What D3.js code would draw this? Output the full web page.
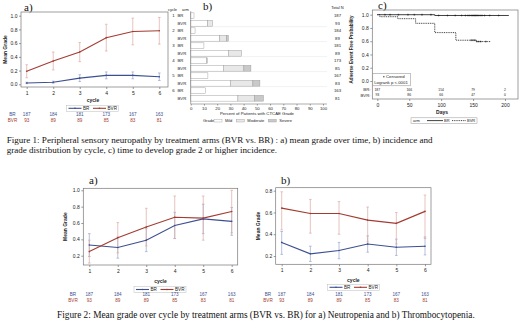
<!DOCTYPE html>
<html>
<head>
<meta charset="utf-8">
<script src="https://cdn.jsdelivr.net/npm/d3@7"></script>
<style>
  body { margin: 0; background: #fff; }
  svg { display: block; font-family: "Liberation Sans", Arial, sans-serif; }
</style>
</head>
<body>
<div id="chart"></div>
<script>
// ---- data ----
const cycles = [1, 2, 3, 4, 5, 6];
const atRiskBR = [187, 184, 181, 173, 167, 163];
const atRiskBVR = [93, 89, 89, 85, 83, 81];

// Fig 1a: peripheral sensory neuropathy, mean grade with error bar ends
const neuroBR = [0.02, 0.03, 0.09, 0.13, 0.13, 0.11];
const neuroBRLo = [0.01, 0.015, 0.04, 0.08, 0.08, 0.055];
const neuroBRHi = [0.03, 0.045, 0.14, 0.18, 0.18, 0.165];
const neuroBVR = [0.19, 0.34, 0.47, 0.68, 0.77, 0.78];
const neuroBVRLo = [0.095, 0.21, 0.33, 0.485, 0.575, 0.585];
const neuroBVRHi = [0.285, 0.47, 0.61, 0.875, 0.965, 0.975];

// Fig 1b: percent of patients by grade (rows = cycle x arm)
const gradeRows = ['1 BR', '1 BVR', '2 BR', '2 BVR', '3 BR', '3 BVR', '4 BR', '4 BVR', '5 BR', '5 BVR', '6 BR', '6 BVR'];
const gradeMild = [2.5, 12.8, 3.3, 22, 10, 28.4, 11.8, 24.6, 13, 30, 11, 35.7];
const gradeModerate = [0, 3.8, 0, 5, 0, 10, 0.8, 15.6, 0, 17, 0, 12.5];
const gradeSevere = [0, 0, 0, 1.4, 0, 0, 0, 5.3, 0, 5.3, 0, 6.8];
const gradeTotalN = [187, 93, 184, 89, 181, 89, 173, 85, 167, 83, 163, 81];
const gradeNames = ['Mild', 'Moderate', 'Severe'];

// Fig 1c: time to grade >= 2 (Kaplan-Meier)
const kmBRTime = [0, 90, 206];
const kmBRSurv = [1.0, 0.988, 0.988];
const kmBVRTime = [0, 4, 32, 60, 90, 123, 155, 178];
const kmBVRSurv = [1.0, 0.97, 0.94, 0.87, 0.73, 0.615, 0.595, 0.595];
const censorBR = [12, 20, 33, 48, 58, 70, 84, 96, 110, 122, 132, 138, 142, 145, 148, 150, 152, 154, 156, 158, 161, 164, 168, 176, 190];
const censorBVR = [147, 150, 153, 156, 159, 162, 170];
const kmDays = [0, 50, 100, 150, 200];
const kmRiskBR = [187, 166, 154, 79, 2];
const kmRiskBVR = [93, 86, 66, 47, 0];

// Fig 2a: neutropenia
const neutroBR = [0.33, 0.30, 0.39, 0.57, 0.65, 0.62];
const neutroBRLo = [0.19, 0.17, 0.25, 0.41, 0.47, 0.45];
const neutroBRHi = [0.47, 0.43, 0.53, 0.73, 0.83, 0.79];
const neutroBVR = [0.25, 0.42, 0.55, 0.67, 0.66, 0.74];
const neutroBVRLo = [0.11, 0.235, 0.32, 0.41, 0.39, 0.48];
const neutroBVRHi = [0.39, 0.605, 0.78, 0.93, 0.93, 1.0];

// Fig 2b: thrombocytopenia
const thromboBR = [0.325, 0.22, 0.25, 0.31, 0.28, 0.29];
const thromboBRLo = [0.215, 0.15, 0.175, 0.235, 0.205, 0.21];
const thromboBRHi = [0.425, 0.29, 0.325, 0.385, 0.355, 0.375];
const thromboBVR = [0.64, 0.59, 0.59, 0.53, 0.50, 0.61];
const thromboBVRLo = [0.44, 0.41, 0.40, 0.33, 0.31, 0.36];
const thromboBVRHi = [0.79, 0.72, 0.70, 0.65, 0.60, 0.76];

const BLUE = '#3d4f91';
const RED = '#a33b31';
const BLUE_ERR = '#9aa6cc';
const RED_ERR = '#dbaaa4';
const FS = 5;

const svg = d3.select('#chart').append('svg')
  .attr('width', 520)
  .attr('height', 323);

const txt = (g, x, y, s, opts = {}) => g.append('text')
  .attr('x', x).attr('y', y)
  .attr('dy', '0.35em')
  .attr('font-size', opts.size || FS)
  .attr('font-weight', opts.bold ? 'bold' : null)
  .attr('fill', opts.color || '#222')
  .attr('text-anchor', opts.anchor || 'middle')
  .text(s);

const panelLabel = (x, y, s) => svg.append('text')
  .attr('x', x).attr('y', y)
  .attr('font-family', '"Liberation Serif", "Times New Roman", serif')
  .attr('font-size', 11)
  .attr('fill', '#111')
  .text(s);

const styleAxis = (a) => {
  a.select('.domain').remove();
  a.selectAll('line').attr('stroke', '#555').attr('stroke-width', 0.6);
  a.selectAll('text').attr('font-size', FS).attr('fill', '#222').attr('font-family', null);
};

// line chart with error bars (mean grade by cycle)
const linePanel = (o) => {
  const g = svg.append('g');
  const x = d3.scaleLinear().domain([1, 6]).range(o.xr);
  const y = d3.scaleLinear().domain(o.yd).range(o.yr);
  const [fx0, fy0, fx1, fy1] = o.frame;

  g.append('g').attr('transform', `translate(${fx0},0)`)
    .call(d3.axisLeft(y).tickValues(o.yticks).tickFormat(d3.format('.1f')).tickSize(2).tickPadding(1.5))
    .call(styleAxis);
  g.append('g').attr('transform', `translate(0,${fy1})`)
    .call(d3.axisBottom(x).tickValues(cycles).tickFormat(d3.format('d')).tickSize(2).tickPadding(2))
    .call(styleAxis);

  const series = [
    { vals: o.br, lo: o.brLo, hi: o.brHi, color: BLUE, ecolor: BLUE_ERR },
    { vals: o.bvr, lo: o.bvrLo, hi: o.bvrHi, color: RED, ecolor: RED_ERR },
  ];
  series.forEach((s) => {
    cycles.forEach((c, i) => {
      const lo = Math.min(y(s.lo[i]), fy1);
      const hi = Math.max(y(s.hi[i]), fy0);
      const cx = x(c);
      g.append('line').attr('x1', cx).attr('x2', cx).attr('y1', lo).attr('y2', hi)
        .attr('stroke', s.ecolor).attr('stroke-width', 0.7);
      [lo, hi].forEach((yy) => {
        if (yy > fy0 && yy < fy1) {
          g.append('line').attr('x1', cx - 1.3).attr('x2', cx + 1.3).attr('y1', yy).attr('y2', yy)
            .attr('stroke', s.ecolor).attr('stroke-width', 0.7);
        }
      });
    });
  });
  series.forEach((s) => {
    g.append('path')
      .datum(s.vals)
      .attr('fill', 'none')
      .attr('stroke', s.color)
      .attr('stroke-width', 1.1)
      .attr('d', d3.line().x((d, i) => x(cycles[i])).y((d) => y(d)));
    g.selectAll(null).data(s.vals).enter().append('circle')
      .attr('cx', (d, i) => x(cycles[i])).attr('cy', (d) => y(d)).attr('r', 0.8)
      .attr('fill', s.color);
  });

  g.append('rect').attr('x', fx0).attr('y', fy0).attr('width', fx1 - fx0).attr('height', fy1 - fy0)
    .attr('fill', 'none').attr('stroke', '#777').attr('stroke-width', 0.7);

  // titles
  txt(g, o.xr[0] + (o.xr[1] - o.xr[0]) / 2, o.cycleY, 'cycle', { bold: true });
  g.append('text')
    .attr('transform', `translate(${o.yTitleX},${(fy0 + fy1) / 2}) rotate(-90)`)
    .attr('text-anchor', 'middle').attr('dy', '0.35em')
    .attr('font-size', FS).attr('font-weight', 'bold').attr('fill', '#222')
    .text('Mean Grade');

  // legend
  const lx = o.legend[0];
  const ly = o.legend[1];
  g.append('rect').attr('x', lx - 26).attr('y', ly - 3).attr('width', 52).attr('height', 6)
    .attr('fill', '#fff').attr('stroke', '#bbb').attr('stroke-width', 0.5);
  [['BR', BLUE, lx - 24], ['BVR', RED, lx + 0.5]].forEach(([name, col, sx]) => {
    g.append('line').attr('x1', sx).attr('x2', sx + 13).attr('y1', ly).attr('y2', ly)
      .attr('stroke', col).attr('stroke-width', 1.1);
    g.append('circle').attr('cx', sx + 6.5).attr('cy', ly).attr('r', 0.8).attr('fill', col);
    txt(g, sx + 14.5, ly, name, { anchor: 'start', size: 4.6 });
  });

  // patients at risk
  txt(g, o.riskLabelX, o.riskY[0], 'BR', { color: BLUE, size: 4.6 });
  txt(g, o.riskLabelX, o.riskY[1], 'BVR', { color: RED, size: 4.6 });
  cycles.forEach((c, i) => {
    txt(g, x(c), o.riskY[0], atRiskBR[i], { color: BLUE, size: 4.6 });
    txt(g, x(c), o.riskY[1], atRiskBVR[i], { color: RED, size: 4.6 });
  });
};

// ---- Figure 1a ----
panelLabel(24, 11, 'a)');
linePanel({
  frame: [21, 12, 168, 87],
  xr: [26.7, 159.3],
  yd: [0, 1],
  yr: [84.3, 15.7],
  yticks: [0, 0.2, 0.4, 0.6, 0.8, 1.0],
  br: neuroBR, brLo: neuroBRLo, brHi: neuroBRHi,
  bvr: neuroBVR, bvrLo: neuroBVRLo, bvrHi: neuroBVRHi,
  cycleY: 100,
  yTitleX: 5,
  legend: [92.5, 108.3],
  riskLabelX: 12.5,
  riskY: [114, 120],
});

// ---- Figure 1b ----
(() => {
  const g = svg.append('g');
  const x = d3.scaleLinear().domain([0, 100]).range([190.7, 323]);
  const y = d3.scaleBand().domain(gradeRows).range([11.2, 102.8]).padding(0.22);
  const fx0 = 190.7;
  const fx1 = 327;
  const fy0 = 11.2;
  const fy1 = 104;

  g.append('g').attr('transform', `translate(0,${fy1})`)
    .call(d3.axisBottom(x).tickValues(d3.range(0, 101, 10)).tickSize(1.5).tickPadding(1.2))
    .call(styleAxis);
  g.selectAll('.tick text').attr('font-size', 4.3);

  // group separators
  [2, 4, 6, 8, 10].forEach((k) => {
    const yy = y(gradeRows[k]) - y.step() * y.paddingInner() / 2 - 0.4;
    g.append('line').attr('x1', fx0).attr('x2', fx1).attr('y1', yy).attr('y2', yy)
      .attr('stroke', '#e4e4e4').attr('stroke-width', 0.5);
  });

  const fills = ['#ffffff', '#e8e8e8', '#c9c9c9'];
  gradeRows.forEach((r, i) => {
    const parts = [gradeMild[i], gradeModerate[i], gradeSevere[i]];
    let acc = 0;
    parts.forEach((p, k) => {
      if (p > 0) {
        g.append('rect')
          .attr('x', x(acc)).attr('y', y(r))
          .attr('width', x(acc + p) - x(acc)).attr('height', y.bandwidth())
          .attr('fill', fills[k]).attr('stroke', '#9a9a9a').attr('stroke-width', 0.45);
      }
      acc += p;
    });
    const [cyc, arm] = r.split(' ');
    if (arm === 'BR') txt(g, 173.5, y(r) + y.bandwidth() / 2, cyc, { size: 4.3 });
    txt(g, 177.5, y(r) + y.bandwidth() / 2, arm, { size: 4.3, anchor: 'start' });
    txt(g, 337.5, y(r) + y.bandwidth() / 2, gradeTotalN[i], { size: 4.3 });
  });

  g.append('line').attr('x1', fx0).attr('x2', fx0).attr('y1', fy0).attr('y2', fy1)
    .attr('stroke', '#777').attr('stroke-width', 0.6);
  g.append('line').attr('x1', fx0).attr('x2', fx1).attr('y1', fy1).attr('y2', fy1)
    .attr('stroke', '#777').attr('stroke-width', 0.6);

  txt(g, 172.5, 9.5, 'cycle', { size: 4 });
  txt(g, 185.5, 9.5, 'arm', { size: 4 });
  txt(g, 337.5, 7.5, 'Total N', { size: 4 });
  txt(g, 257, 113, 'Percent of Patients with CTCAE Grade', { size: 4.3 });

  // legend
  const ly = 120.7;
  txt(g, 203, ly, 'Grade', { size: 4, anchor: 'start' });
  let lx = 214;
  gradeNames.forEach((n, k) => {
    g.append('rect').attr('x', lx).attr('y', ly - 1.3).attr('width', 8).attr('height', 2.6)
      .attr('fill', fills[k]).attr('stroke', '#9a9a9a').attr('stroke-width', 0.4);
    const t = txt(g, lx + 11, ly, n, { size: 4, anchor: 'start' });
    lx = lx + 11 + t.node().getComputedTextLength() + 4;
  });
})();
panelLabel(203, 10, 'b)');

// ---- Figure 1c ----
(() => {
  const g = svg.append('g');
  const x = d3.scaleLinear().domain([0, 200]).range([377.3, 505]);
  const y = d3.scaleLinear().domain([0, 1]).range([81, 14.7]);
  const fx0 = 372.3;
  const fx1 = 518;
  const fy0 = 10;
  const fy1 = 99;

  g.append('g').attr('transform', `translate(${fx0},0)`)
    .call(d3.axisLeft(y).tickValues([0, 0.2, 0.4, 0.6, 0.8, 1.0]).tickFormat(d3.format('.1f')).tickSize(2).tickPadding(1.5))
    .call(styleAxis);
  g.append('g').attr('transform', `translate(0,${fy1})`)
    .call(d3.axisBottom(x).tickValues(kmDays).tickSize(2).tickPadding(2))
    .call(styleAxis);

  const step = d3.line().curve(d3.curveStepAfter).x((d) => x(d[0])).y((d) => y(d[1]));
  g.append('path')
    .datum(kmBRTime.map((t, i) => [t, kmBRSurv[i]]))
    .attr('fill', 'none').attr('stroke', '#111').attr('stroke-width', 0.8)
    .attr('d', step);
  g.append('path')
    .datum(kmBVRTime.map((t, i) => [t, kmBVRSurv[i]]))
    .attr('fill', 'none').attr('stroke', '#111').attr('stroke-width', 0.8)
    .attr('stroke-dasharray', '1,0.8')
    .attr('d', step);

  const survAt = (times, surv, t) => {
    let s = surv[0];
    times.forEach((tt, i) => { if (tt <= t) s = surv[i]; });
    return s;
  };
  const cross = (t, s) => {
    const cx = x(t);
    const cy = y(s);
    g.append('path').attr('d', `M${cx - 1},${cy}H${cx + 1}M${cx},${cy - 1}V${cy + 1}`)
      .attr('stroke', '#111').attr('stroke-width', 0.45);
  };
  censorBR.forEach((t) => cross(t, survAt(kmBRTime, kmBRSurv, t)));
  censorBVR.forEach((t) => cross(t, survAt(kmBVRTime, kmBVRSurv, t)));

  g.append('rect').attr('x', fx0).attr('y', fy0).attr('width', fx1 - fx0).attr('height', fy1 - fy0)
    .attr('fill', 'none').attr('stroke', '#777').attr('stroke-width', 0.7);

  // censored / logrank inset
  g.append('rect').attr('x', fx0 + 0.5).attr('y', 73.5).attr('width', 37.5).attr('height', 12.3)
    .attr('fill', '#fff').attr('stroke', '#888').attr('stroke-width', 0.5);
  g.append('path').attr('d', `M${383},${76.7}h1.6M${383.8},${75.9}v1.6`)
    .attr('stroke', '#111').attr('stroke-width', 0.45);
  txt(g, 386, 76.7, 'Censored', { size: 4.3, anchor: 'start' });
  txt(g, 391, 82.4, 'Logrank p <.0001', { size: 4.3 });

  // at risk
  txt(g, 370.5, 89.8, 'BR:', { size: 4.3, anchor: 'end' });
  txt(g, 370.5, 95.3, 'BVR:', { size: 4.3, anchor: 'end' });
  kmDays.forEach((d, i) => {
    txt(g, x(d), 89.8, kmRiskBR[i], { size: 3.4 });
    txt(g, x(d), 95.3, kmRiskBVR[i], { size: 3.4 });
  });

  txt(g, 442, 111.8, 'Days', { bold: true });
  g.append('text')
    .attr('transform', `translate(351,${(fy0 + 81) / 2 + 4}) rotate(-90)`)
    .attr('text-anchor', 'middle').attr('dy', '0.35em')
    .attr('font-size', 4.6).attr('font-weight', 'bold').attr('fill', '#222')
    .text('Adverse Event Free Probability');

  // legend
  g.append('rect').attr('x', 411).attr('y', 117.8).attr('width', 66).attr('height', 5.6)
    .attr('fill', '#fff').attr('stroke', '#999').attr('stroke-width', 0.5);
  txt(g, 413, 120.6, 'arm', { size: 4, anchor: 'start' });
  g.append('line').attr('x1', 427).attr('x2', 443).attr('y1', 120.6).attr('y2', 120.6)
    .attr('stroke', '#111').attr('stroke-width', 0.8);
  txt(g, 444, 120.6, 'BR', { size: 4, anchor: 'start' });
  g.append('line').attr('x1', 452).attr('x2', 466).attr('y1', 120.6).attr('y2', 120.6)
    .attr('stroke', '#111').attr('stroke-width', 0.8).attr('stroke-dasharray', '1,0.8');
  txt(g, 467, 120.6, 'BVR', { size: 4, anchor: 'start' });
})();
panelLabel(378, 9, 'c)');

// ---- captions ----
const caption = (x, y, s, size) => svg.append('text')
  .attr('x', x).attr('y', y)
  .attr('font-family', '"Liberation Serif", "Times New Roman", serif')
  .attr('font-size', size)
  .attr('fill', '#111')
  .text(s);
caption(6.7, 142.5, 'Figure 1: Peripheral sensory neuropathy by treatment arms (BVR vs. BR) : a) mean grade over time, b) incidence and', 9.05);
caption(6.7, 152.8, 'grade distribution by cycle, c) time to develop grade 2 or higher incidence.', 9.05);

// ---- Figure 2a ----
panelLabel(89, 184, 'a)');
linePanel({
  frame: [83.3, 188.3, 237.7, 265],
  xr: [89.3, 231.7],
  yd: [0.2, 1.0],
  yr: [255.7, 190.3],
  yticks: [0.2, 0.4, 0.6, 0.8, 1.0],
  br: neutroBR, brLo: neutroBRLo, brHi: neutroBRHi,
  bvr: neutroBVR, bvrLo: neutroBVRLo, bvrHi: neutroBVRHi,
  cycleY: 281.7,
  yTitleX: 65,
  legend: [160, 289.5],
  riskLabelX: 73,
  riskY: [294.5, 300.2],
});

// ---- Figure 2b ----
panelLabel(281, 184, 'b)');
linePanel({
  frame: [275.7, 187.7, 431, 264.3],
  xr: [281.7, 425],
  yd: [0.2, 0.8],
  yr: [256, 190.7],
  yticks: [0.2, 0.4, 0.6, 0.8],
  br: thromboBR, brLo: thromboBRLo, brHi: thromboBRHi,
  bvr: thromboBVR, bvrLo: thromboBVRLo, bvrHi: thromboBVRHi,
  cycleY: 280,
  yTitleX: 258,
  legend: [353.5, 287.3],
  riskLabelX: 268,
  riskY: [294.2, 300.2],
});

caption(57, 317.5, 'Figure 2: Mean grade over cycle by treatment arms (BVR vs. BR) for a)  Neutropenia and b) Thrombocytopenia.', 9.3);
</script>
</body>
</html>
